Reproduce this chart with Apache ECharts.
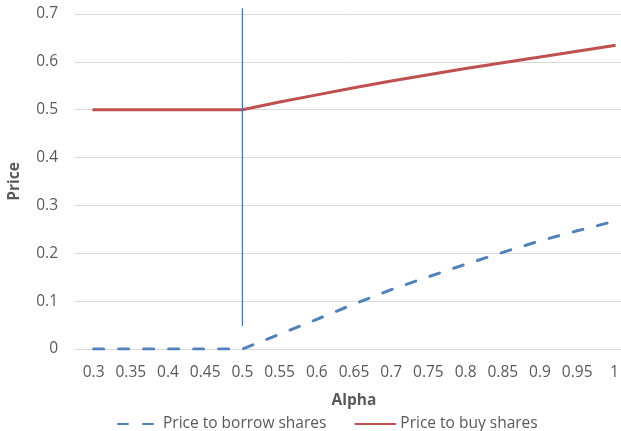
<!DOCTYPE html>
<html>
<head>
<meta charset="utf-8">
<script src="https://cdn.jsdelivr.net/npm/echarts@6/dist/echarts.min.js"></script>
<style>
  html, body { margin: 0; padding: 0; background: #ffffff; }
  #chart { width: 621px; height: 431px; }
</style>
</head>
<body>
<div id="chart"></div>
<script>
// Alpha values along the horizontal axis
const alphas = ['0.3', '0.35', '0.4', '0.45', '0.5', '0.55', '0.6', '0.65', '0.7', '0.75', '0.8', '0.85', '0.9', '0.95', '1'];

// Price to borrow shares, one value per alpha
const borrowPrice = [0, 0, 0, 0, 0, 0.031, 0.062, 0.094, 0.124, 0.151, 0.177, 0.202, 0.226, 0.247, 0.267];

// Price to buy shares, one value per alpha
const buyPrice = [0.5, 0.5, 0.5, 0.5, 0.5, 0.516, 0.531, 0.546, 0.56, 0.573, 0.586, 0.598, 0.61, 0.622, 0.634];

// Vertical reference line at alpha = 0.5 (category, low price, high price)
const refAlpha = '0.5';
const refRange = [0.048, 0.712];

const textColor = '#595959';
const gridColor = '#D9D9D9';
const fontFamily = '"Open Sans", "Noto Sans", sans-serif';
const fontSize = 15.5;

const chart = echarts.init(document.getElementById('chart'), null, { renderer: 'canvas' });

chart.setOption({
  animation: false,
  backgroundColor: '#ffffff',
  textStyle: { fontFamily: fontFamily },
  // the plot area runs a little past the right edge of the canvas
  grid: { left: 75, width: 558, top: 14, bottom: 82, containLabel: false, outerBoundsMode: 'none' },
  legend: {
    data: ['Price to borrow shares', 'Price to buy shares'],
    bottom: -6,
    left: 112,
    itemWidth: 40,
    itemHeight: 14,
    itemGap: 28,
    itemStyle: { opacity: 0 },
    textStyle: { color: textColor, fontSize: fontSize, fontFamily: fontFamily }
  },
  xAxis: {
    type: 'category',
    data: alphas,
    boundaryGap: true,
    name: 'Alpha',
    nameLocation: 'middle',
    nameGap: 44,
    nameTextStyle: { color: textColor, fontSize: fontSize, fontWeight: 'bold', fontFamily: fontFamily },
    axisLine: { lineStyle: { color: gridColor, width: 1 } },
    axisTick: { show: false },
    axisLabel: { color: textColor, fontSize: fontSize, margin: 16, interval: 0, fontFamily: fontFamily }
  },
  yAxis: {
    type: 'value',
    min: 0,
    max: 0.7,
    interval: 0.1,
    name: 'Price',
    nameLocation: 'middle',
    nameGap: 52,
    nameRotate: 90,
    nameTextStyle: { color: textColor, fontSize: fontSize, fontWeight: 'bold', fontFamily: fontFamily },
    axisLine: { show: false },
    axisTick: { show: false },
    axisLabel: { color: textColor, fontSize: fontSize, margin: 17, fontFamily: fontFamily },
    splitLine: { lineStyle: { color: gridColor, width: 1 } }
  },
  series: [
    {
      name: 'Price to borrow shares',
      type: 'line',
      data: borrowPrice,
      symbol: 'none',
      z: 3,
      lineStyle: { color: '#4F81BD', width: 3, type: [10, 15], cap: 'round' },
      itemStyle: { color: '#4F81BD' }
    },
    {
      name: 'Price to buy shares',
      type: 'line',
      data: buyPrice,
      symbol: 'none',
      z: 3,
      lineStyle: { color: '#C0504D', width: 3, cap: 'round' },
      itemStyle: { color: '#C0504D' }
    },
    {
      name: 'alpha marker',
      type: 'line',
      data: [[refAlpha, refRange[0]], [refAlpha, refRange[1]]],
      symbol: 'none',
      clip: false,
      z: 4,
      lineStyle: { color: '#4472C4', width: 1.2, opacity: 1 },
      itemStyle: { color: '#4472C4' }
    }
  ]
});
</script>
</body>
</html>
